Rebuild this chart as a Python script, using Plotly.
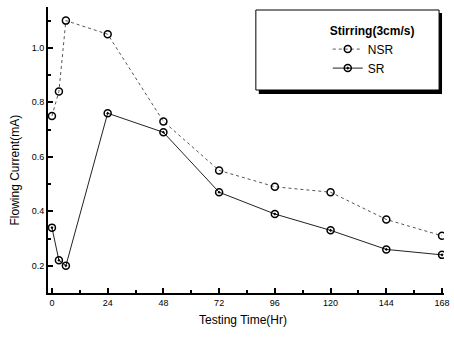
import plotly.graph_objects as go

hours = [0, 3, 6, 24, 48, 72, 96, 120, 144, 168]
nsr = [0.75, 0.84, 1.10, 1.05, 0.73, 0.55, 0.49, 0.47, 0.37, 0.31]
sr = [0.34, 0.22, 0.20, 0.76, 0.69, 0.47, 0.39, 0.33, 0.26, 0.24]
xticks = [0, 24, 48, 72, 96, 120, 144, 168]
yticks = [0.2, 0.4, 0.6, 0.8, 1.0]
yticklabels = ["0.2", "0.4", "0.6", "0.8", "1.0"]

FONT = "Liberation Sans, Arial, sans-serif"
W, H = 454, 337
ML, MR, MT, MB = 48, 4, 7, 44
PW, PH = W - ML - MR, H - MT - MB


def px_x(p):
    return (p - ML) / PW


def px_y(p):
    return 1 - (p - MT) / PH


fig = go.Figure()
fig.add_trace(go.Scatter(
    x=hours, y=nsr, name="NSR", mode="lines+markers",
    line=dict(color="#555555", width=1, dash="dot"),
    marker=dict(symbol="circle-open", size=7, color="black", line=dict(width=1.5)),
))
fig.add_trace(go.Scatter(
    x=hours, y=sr, name="SR", mode="lines+markers",
    line=dict(color="#222222", width=1),
    marker=dict(symbol="circle-open-dot", size=7, color="black", line=dict(width=1.5)),
))

# legend frame with drop shadow
fig.add_shape(type="rect", xref="paper", yref="paper",
              x0=px_x(262), x1=px_x(448), y0=px_y(13), y1=px_y(94),
              fillcolor="black", line=dict(width=0), layer="below")
fig.add_shape(type="rect", xref="paper", yref="paper",
              x0=px_x(259), x1=px_x(445), y0=px_y(10), y1=px_y(90),
              fillcolor="white", line=dict(color="black", width=1), layer="below")

fig.add_annotation(text="Testing Time(Hr)", xref="paper", yref="paper",
                   x=px_x(246), y=px_y(320), showarrow=False,
                   font=dict(size=12, color="black"), xanchor="center", yanchor="middle")
fig.add_annotation(text="Flowing Current(mA)", xref="paper", yref="paper",
                   x=px_x(15), y=px_y(170), showarrow=False, textangle=-90,
                   font=dict(size=12, color="black"), xanchor="center", yanchor="middle")

fig.update_layout(
    width=W, height=H,
    margin=dict(l=ML, r=MR, t=MT, b=MB),
    paper_bgcolor="white", plot_bgcolor="white",
    font=dict(family=FONT, size=10, color="black"),
    showlegend=True,
    legend=dict(
        title=dict(text="<b>Stirring(3cm/s)</b>", font=dict(size=12, color="black")),
        x=px_x(332), y=px_y(19), xanchor="left", yanchor="top",
        bgcolor="rgba(0,0,0,0)", borderwidth=0,
        font=dict(size=12, color="black"), itemwidth=30, tracegroupgap=0,
    ),
    xaxis=dict(
        range=[-1.7, 168.85], tickmode="array", tickvals=xticks,
        ticktext=[str(v) for v in xticks], ticklabeloverflow="allow",
        showgrid=False, zeroline=False, showline=True, linecolor="black", linewidth=2,
        ticks="inside", ticklen=5, tickwidth=1.5, tickcolor="black",
        minor=dict(dtick=12, tick0=0, ticks="inside", ticklen=3, tickcolor="black"),
        tickfont=dict(size=9, color="black"),
    ),
    yaxis=dict(
        range=[0.1, 1.15], tickmode="array", tickvals=yticks, ticktext=yticklabels,
        showgrid=False, zeroline=False, showline=True, linecolor="black", linewidth=2,
        ticks="inside", ticklen=5, tickwidth=1.5, tickcolor="black",
        minor=dict(dtick=0.1, tick0=0, ticks="inside", ticklen=3, tickcolor="black"),
        tickfont=dict(size=9, color="black"),
    ),
)

fig.write_html("out.html")
